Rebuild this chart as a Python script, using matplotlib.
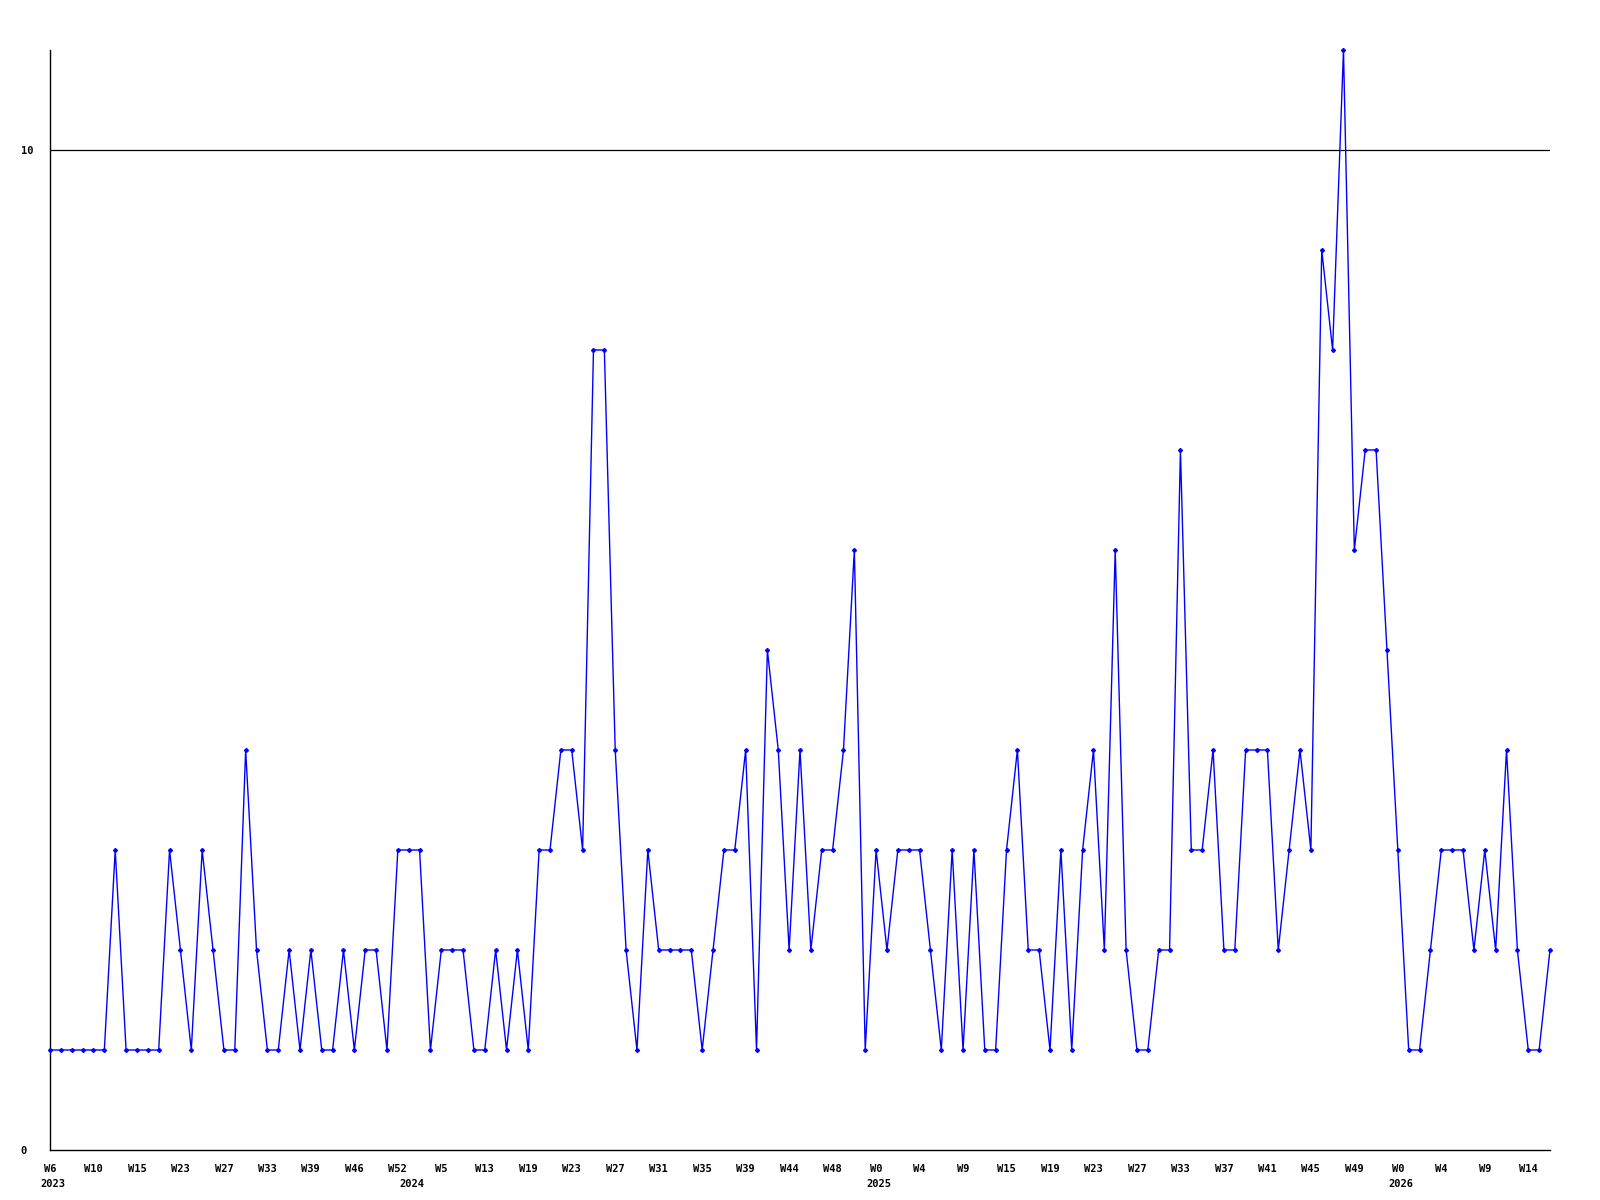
import matplotlib
matplotlib.use("Agg")
import matplotlib.pyplot as plt
import matplotlib.transforms as mtransforms

# weekly counts, one point per week with data (2023 W6 .. 2026 W16)
values = [1, 1, 1, 1, 1, 1, 3, 1, 1, 1, 1, 3, 2, 1, 3, 2, 1, 1, 4, 2,
          1, 1, 2, 1, 2, 1, 1, 2, 1, 2, 2, 1, 3, 3, 3, 1, 2, 2, 2, 1,
          1, 2, 1, 2, 1, 3, 3, 4, 4, 3, 8, 8, 4, 2, 1, 3, 2, 2, 2, 2,
          1, 2, 3, 3, 4, 1, 5, 4, 2, 4, 2, 3, 3, 4, 6, 1, 3, 2, 3, 3,
          3, 2, 1, 3, 1, 3, 1, 1, 3, 4, 2, 2, 1, 3, 1, 3, 4, 2, 6, 2,
          1, 1, 2, 2, 7, 3, 3, 4, 2, 2, 4, 4, 4, 2, 3, 4, 3, 9, 8, 11,
          6, 7, 7, 5, 3, 1, 1, 2, 3, 3, 3, 2, 3, 2, 4, 2, 1, 1, 2]

week_labels = ["W6", "W10", "W15", "W23", "W27", "W33", "W39", "W46", "W52",
               "W5", "W13", "W19", "W23", "W27", "W31", "W35", "W39", "W44",
               "W48", "W0", "W4", "W9", "W15", "W19", "W23", "W27", "W33",
               "W37", "W41", "W45", "W49", "W0", "W4", "W9", "W14"]
label_step = 4

years = ["2023", "2024", "2025", "2026"]
year_pos = [0, 33, 76, 124]

y_ticks = [0, 10]

FONT = dict(family="DejaVu Sans Mono", fontweight="bold", fontsize=7.5)

fig = plt.figure(figsize=(16, 12), dpi=100)
ax = fig.add_axes([50/1600, 50/1200, 1500/1600, 1100/1200])

x = list(range(len(values)))
ax.plot(x, values, color="#0000ff", lw=1.0, marker="D", markersize=2.0,
        clip_on=False, zorder=3)
ax.axhline(10, color="black", lw=0.9, zorder=2)

ax.set_xlim(0, len(values) - 1)
ax.set_ylim(0, 11)

for s in ["top", "right"]:
    ax.spines[s].set_visible(False)
for s in ["left", "bottom"]:
    ax.spines[s].set_color("black")
    ax.spines[s].set_linewidth(1.0)

ax.set_xticks(x[::label_step][:len(week_labels)])
ax.set_xticklabels(week_labels, **FONT)
ax.tick_params(axis="x", length=0, pad=10)

ax.set_yticks(y_ticks)
ax.set_yticklabels([str(t) for t in y_ticks], **FONT)
ax.tick_params(axis="y", length=0, pad=21)
for lbl in ax.get_yticklabels():
    lbl.set_horizontalalignment("left")

trans = mtransforms.blended_transform_factory(ax.transData, ax.transAxes)
for yr, pos in zip(years, year_pos):
    ax.annotate(yr, xy=(pos, 0), xycoords=trans, xytext=(2, -21),
                textcoords="offset points", ha="center", va="top", **FONT)

fig.savefig("out.png", dpi=100, facecolor="white")
